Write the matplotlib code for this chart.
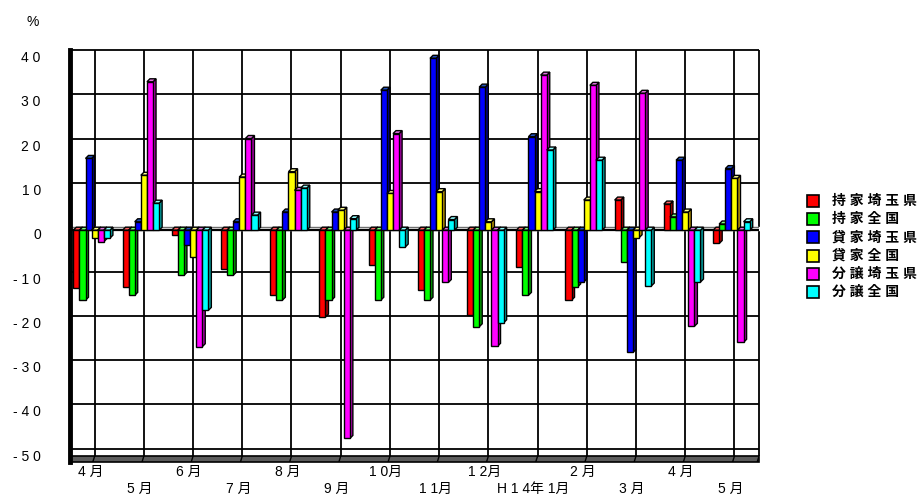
import numpy as np
import matplotlib.pyplot as plt
from matplotlib.patches import Rectangle, Polygon
from matplotlib.transforms import ScaledTranslation

plt.rcParams['font.family'] = ['Liberation Sans', 'Noto Sans CJK JP']

# --- データ (前年同月比, %) ---
months = ["4 月", "5 月", "6 月", "7 月", "8 月", "9 月", "1 0月", "1 1月",
          "1 2月", "H 1 4年 1月", "2 月", "3 月", "4 月", "5 月"]
series_names = ["持 家 埼 玉 県", "持 家 全 国", "貸 家 埼 玉 県",
                "貸 家 全 国", "分 譲 埼 玉 県", "分 譲 全 国"]

mochiie_saitama = [-13.1, -12.8, -1.1, -8.7, -14.7, -19.6, -7.9, -13.5, -19.2, -8.3, -15.8, 6.8, 5.9, -3.0]
mochiie_zenkoku = [-15.8, -14.7, -10.2, -10.2, -15.8, -15.8, -15.8, -15.8, -21.8, -14.7, -12.8, -7.2, 3.0, 1.4]
kashiya_saitama = [16.2, 1.9, -3.4, 1.9, 4.1, 4.1, 31.6, 38.8, 32.3, 21.1, -11.7, -27.6, 15.8, 13.9]
kashiya_zenkoku = [-1.8, 12.4, -6.0, 12.0, 13.2, 4.5, 8.3, 8.7, 1.9, 8.7, 6.8, -1.7, 4.1, 11.7]
bunjo_saitama = [-2.6, 33.5, -26.3, 20.7, 9.0, -47.0, 21.8, -11.8, -26.2, 35.0, 32.7, 30.9, -21.7, -25.3]
bunjo_zenkoku = [-1.8, 6.1, -18.1, 3.4, 9.5, 2.6, -3.8, 2.4, -20.9, 18.1, 15.8, -12.6, -11.7, 1.9]

series = [mochiie_saitama, mochiie_zenkoku, kashiya_saitama,
          kashiya_zenkoku, bunjo_saitama, bunjo_zenkoku]

yticks = [-50, -40, -30, -20, -10, 0, 10, 20, 30, 40]
ytick_labels = ["- 5 0", "- 4 0", "- 3 0", "- 2 0", "- 1 0", "0", "1 0", "2 0", "3 0", "4 0"]

# 色: 前面 / 上面 / 側面
front_colors = ["#ff0000", "#00ff00", "#0000ff", "#ffff00", "#ff00ff", "#00ffff"]
top_colors = ["#ff6060", "#80ff80", "#2050c0", "#ffff90", "#e070e0", "#90ffff"]
side_colors = ["#b00000", "#00a800", "#000090", "#c8a000", "#b000b0", "#00a8a8"]

# --- レイアウト (ピクセル) ---
W, H = 924, 498
ax_l, ax_r, ax_t, ax_b = 70, 759, 50, 462
y_lo, y_hi = -53, 40

fig = plt.figure(figsize=(W / 100, H / 100), dpi=100)
ax = fig.add_axes([ax_l / W, 1 - ax_b / H, (ax_r - ax_l) / W, (ax_b - ax_t) / H])
n = len(months)
ax.set_xlim(-0.5, n - 0.5)
ax.set_ylim(y_lo, y_hi)

px_x = (ax_r - ax_l) / n
px_y = (ax_b - ax_t) / (y_hi - y_lo)
DX = 3 / px_x          # 奥行き (データ単位)
DY = 3 / px_y
floor_top = -50 - 7.5 / px_y
bw = 0.124
xs = np.arange(n)

# 背面グリッド
other = [t for t in yticks if t != 0]
ax.hlines(other, -0.5, n - 0.5, color="black", lw=1.3, zorder=1, clip_on=False)
ax.vlines(xs, floor_top, y_hi, color="black", lw=1.3, zorder=1)
ax.vlines(n - 0.5, floor_top, y_hi, color="black", lw=1.3, zorder=1, clip_on=False)

# ゼロ面
ax.fill_between([-0.5, n - 0.5], -DY, 0, color="white", zorder=1.5)
ax.hlines(0, -0.5, n - 0.5, color="#707070", lw=1.0, zorder=1.6)
ax.hlines(-DY, -0.5, n - 0.5, color="black", lw=1.6, zorder=1.6)

# 床
ax.add_patch(Rectangle((-0.5, y_lo), n, floor_top - y_lo, facecolor="#5c5c5c",
                       edgecolor="black", lw=1.2, zorder=2, clip_on=False))
for xv in list(xs) + [n - 0.5]:
    ax.plot([xv, xv - DX * 0.6], [floor_top, y_lo], color="black", lw=1.0, zorder=2.1)

# 3D 棒
for k in range(n):
    for i, vals in enumerate(series):
        v = vals[k]
        lo, hi = min(0, v), max(0, v)
        fl = k - 3 * bw + i * bw - DX
        fr = fl + bw
        ax.add_patch(Polygon([(fr, lo - DY), (fr + DX, lo), (fr + DX, hi), (fr, hi - DY)],
                             facecolor=side_colors[i], edgecolor="black", lw=1.0, zorder=3))
        ax.add_patch(Polygon([(fl, hi - DY), (fr, hi - DY), (fr + DX, hi), (fl + DX, hi)],
                             facecolor=top_colors[i], edgecolor="black", lw=1.0, zorder=3))
        ax.add_patch(Rectangle((fl, lo - DY), bw, hi - lo, facecolor=front_colors[i],
                               edgecolor="black", lw=1.0, zorder=3))

# 軸
for s in ["top", "right", "bottom"]:
    ax.spines[s].set_visible(False)
ax.spines["left"].set_linewidth(3.5)
ax.spines["left"].set_zorder(4)
ax.set_xticks([])
ax.set_yticks(yticks, ytick_labels)
ax.tick_params(axis="y", length=0, pad=21, labelsize=10)
for lab in ax.get_yticklabels():
    lab.set_transform(lab.get_transform() + ScaledTranslation(0, -0.065, fig.dpi_scale_trans))

fig.text(33 / W, 1 - 22 / H, "%", fontsize=10, ha="center", va="center")

# 月ラベル (2段)
for k, m in enumerate(months):
    ypx = 472 if k % 2 == 0 else 489
    ax.text(k - 4 / px_x, -(ypx - ax_b) / (ax_b - ax_t), m, transform=ax.get_xaxis_transform(),
            ha="center", va="center", fontsize=10)

# 凡例
for i, name in enumerate(series_names):
    cy = 201 + 18.2 * i
    fig.add_artist(Rectangle((807 / W, 1 - (cy + 6) / H), 12 / W, 12 / H,
                             facecolor=front_colors[i], edgecolor="black", lw=1.2,
                             transform=fig.transFigure))
    fig.text(832 / W, 1 - cy / H, name, fontsize=10, fontweight="bold", va="center", ha="left")

fig.savefig("out.png", dpi=100)
